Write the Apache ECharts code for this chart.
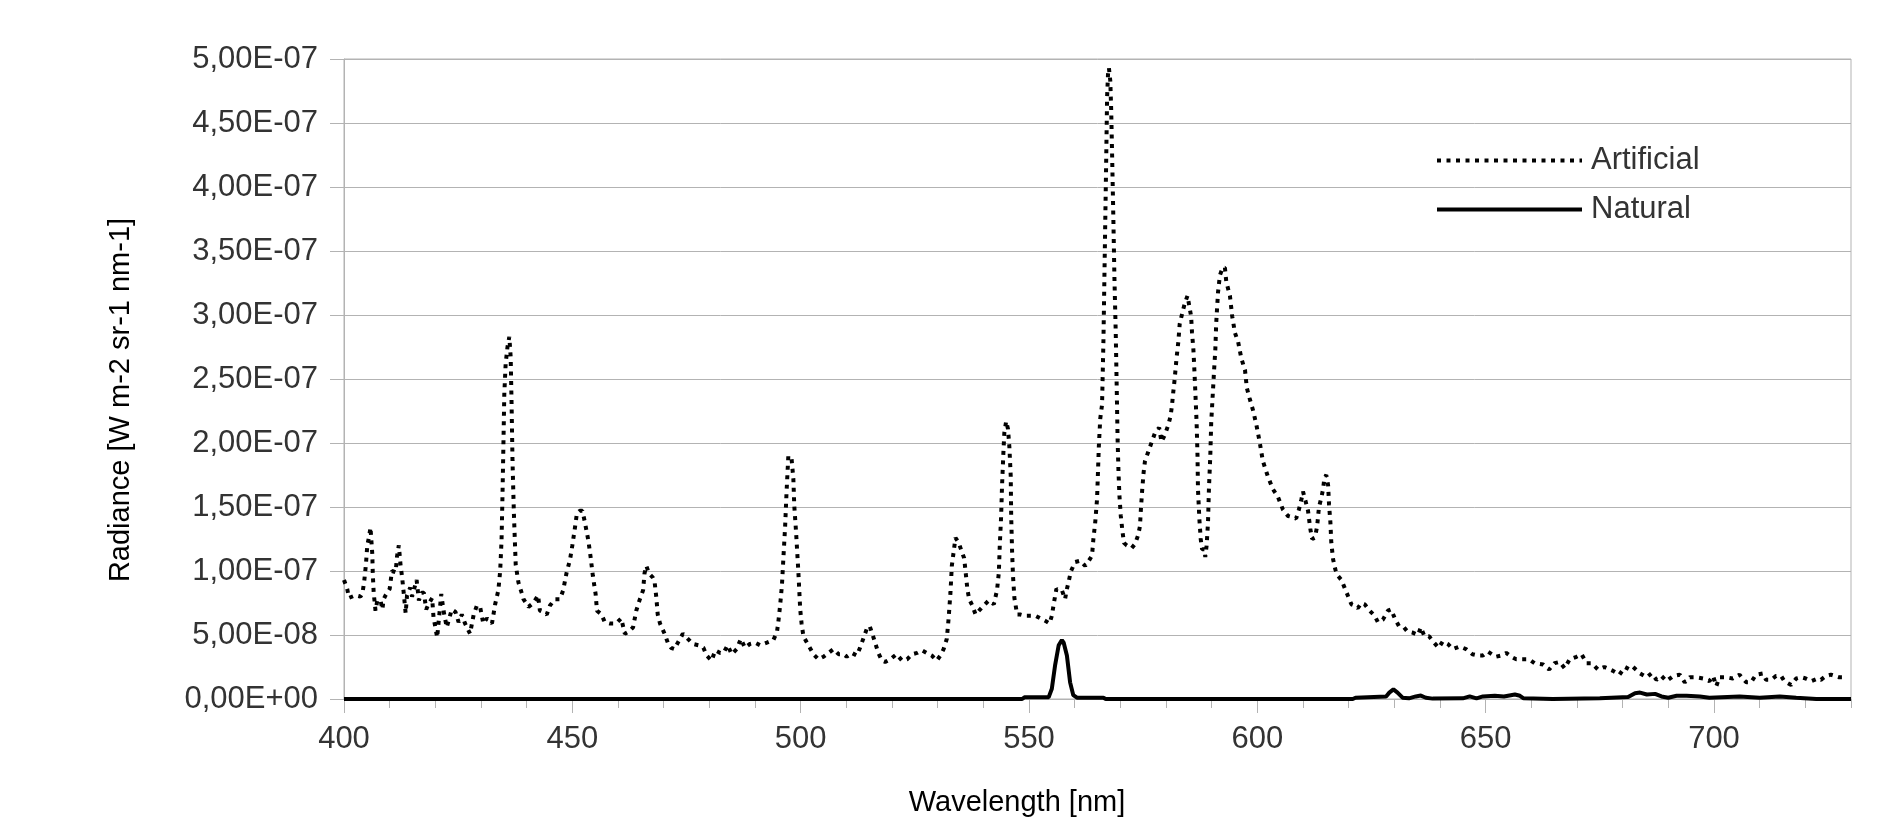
<!DOCTYPE html>
<html>
<head>
<meta charset="utf-8">
<script src="https://cdn.jsdelivr.net/npm/echarts@6/dist/echarts.min.js"></script>
<style>
html,body{margin:0;padding:0;background:#fff;}
#chart{width:1890px;height:829px;}
</style>
</head>
<body>
<div id="chart"></div>
<script>
// ---- Data (radiance in units of 1e-8 W m-2 sr-1 nm-1) ----
const UNIT = 1e-8;
const seriesNames = ['Artificial', 'Natural'];
const xTitle = 'Wavelength [nm]';
const yTitle = 'Radiance [W m-2 sr-1 nm-1]';

const artificialNm = [
400.0,400.7,401.1,402.5,403.6,404.0,404.4,404.8,405.1,405.5,405.8,406.2,406.3,406.5,406.9,407.3,408.0,408.4,408.7,409.1,
410.0,410.5,411.3,411.6,412.0,412.4,412.7,413.1,413.5,413.8,414.5,414.9,415.9,416.4,417.0,417.5,418.0,418.5,419.3,419.6,
420.4,421.3,421.8,422.5,423.6,424.4,425.1,425.8,426.5,427.6,428.4,429.1,429.8,430.5,431.3,432.4,433.1,433.8,434.2,434.5,
434.7,434.9,435.1,435.4,435.8,436.2,436.5,436.7,436.9,437.2,437.6,438.2,438.9,439.3,440.4,441.1,441.8,442.5,442.9,443.6,
444.4,445.1,446.2,447.3,448.0,448.7,449.5,450.0,450.5,451.0,451.6,452.2,452.7,453.5,454.0,454.5,455.1,455.4,456.4,457.1,
458.2,459.6,460.7,461.5,462.5,463.3,464.0,464.7,465.5,465.8,466.2,466.8,467.6,468.0,468.4,468.7,469.2,470.2,470.9,471.6,
472.4,473.1,474.2,475.3,476.4,477.6,478.7,479.4,480.5,481.3,482.4,483.1,484.0,484.9,486.0,486.9,487.8,488.9,490.0,491.1,
492.6,494.0,494.8,495.1,495.5,495.9,496.2,496.6,496.9,497.3,497.7,498.0,498.4,498.6,499.0,499.5,499.9,500.2,500.6,501.7,
502.8,503.9,505.0,506.1,507.2,508.3,509.4,510.1,511.2,512.3,513.0,513.8,514.5,515.1,515.6,516.3,517.0,517.8,518.5,519.6,
521.0,522.2,523.3,524.4,525.5,526.6,527.6,528.7,529.8,530.6,531.3,532.0,532.4,532.8,533.1,533.5,533.9,534.6,535.3,535.8,
536.1,536.5,536.9,537.6,538.3,539.8,541.2,542.3,543.0,543.4,543.6,543.9,544.1,544.4,544.6,545.0,545.4,545.7,546.0,546.1,
546.3,546.5,546.8,547.4,548.1,549.2,550.3,551.4,552.5,553.6,554.5,555.0,555.5,556.0,556.5,557.2,557.9,558.3,558.7,559.2,
560.1,561.2,562.3,563.1,563.8,564.1,564.5,564.9,565.1,565.3,565.6,566.0,566.3,566.6,566.9,567.1,567.3,567.5,567.8,568.0,
568.2,568.5,568.7,569.0,569.2,569.4,569.6,569.8,570.1,570.5,570.8,571.4,572.5,573.2,573.9,574.3,574.5,574.8,575.1,575.4,
576.1,576.9,577.6,578.5,579.0,579.7,580.5,581.0,581.3,581.6,581.9,582.3,582.7,583.0,583.6,584.1,584.7,585.0,585.5,585.7,
586.0,586.2,586.4,586.7,586.9,587.0,587.3,587.6,587.9,588.4,588.6,588.9,589.2,589.4,589.7,589.9,590.3,590.5,590.8,591.0,
591.4,591.8,592.4,592.9,593.2,594.0,594.5,595.1,595.8,596.5,597.3,597.7,598.3,599.1,599.8,600.5,601.2,602.3,603.4,604.5,
605.6,606.7,607.8,608.5,609.1,609.6,610.0,610.6,611.1,611.6,612.0,612.6,613.1,613.5,614.0,614.4,614.7,615.1,615.5,615.7,
616.0,616.2,616.6,617.1,617.7,618.4,619.1,619.9,620.6,621.3,622.0,622.8,623.5,624.6,625.7,626.4,627.5,628.6,629.3,630.1,
631.0,632.1,632.8,633.9,635.2,635.8,636.6,637.6,638.7,639.7,640.6,641.7,642.8,644.3,645.7,647.1,648.3,649.4,650.5,652.2,
653.4,654.5,655.6,656.7,657.8,659.5,660.7,662.6,663.9,665.1,666.2,667.3,668.4,669.9,671.0,672.1,673.2,674.6,676.0,677.9,
679.3,680.5,681.6,682.3,683.8,685.3,686.3,687.4,688.5,689.6,691.1,692.5,693.6,694.7,696.1,697.6,699.0,699.8,700.5,701.2,
702.7,704.1,705.6,706.3,707.1,708.1,709.2,710.7,711.4,712.5,713.6,714.7,715.4,716.9,718.0,719.1,720.1,721.3,722.7,723.4,
724.5,725.6,727.4,729.0
];
const artificialE8 = [
9.3,8.6,7.9,8.1,8.0,8.2,9.1,10.5,12.0,12.7,13.4,11.3,9.8,8.3,6.9,7.7,7.7,7.0,7.8,8.1,
8.6,10.0,9.9,11.1,12.0,10.4,9.6,8.2,6.7,8.1,8.7,8.0,9.3,7.7,8.3,8.3,7.0,7.4,7.9,6.4,
4.8,8.2,6.9,5.6,7.0,6.8,6.0,6.6,5.9,5.1,6.6,7.3,7.2,5.9,6.3,5.9,7.4,8.5,10.0,12.4,
15.8,19.7,23.8,26.2,27.5,28.3,26.7,23.0,18.6,14.5,10.5,9.1,8.3,7.8,7.2,7.4,7.7,8.1,6.9,6.8,
6.6,7.3,7.8,7.8,8.5,9.8,10.9,12.0,13.2,14.5,14.7,14.7,13.9,12.4,11.1,9.6,8.2,6.9,6.6,6.0,
5.9,5.9,6.3,5.1,5.3,5.6,6.9,7.7,8.5,9.8,10.4,9.8,9.5,9.2,7.9,6.6,5.9,5.1,4.4,4.0,
3.9,4.4,5.1,4.7,4.3,4.2,4.0,3.4,3.0,3.8,3.6,3.6,4.2,3.5,3.9,4.7,4.0,4.3,4.4,4.2,
4.4,4.6,5.2,6.0,7.3,8.9,10.9,13.5,16.1,19.0,19.1,18.8,17.2,15.1,13.0,9.9,7.0,5.9,4.9,4.2,
3.5,3.1,3.3,3.6,3.9,3.5,3.5,3.3,3.6,3.4,4.0,4.8,5.5,5.7,5.2,4.4,3.6,3.0,2.9,3.1,
3.5,3.0,3.1,3.5,3.6,3.8,3.6,3.4,3.0,3.4,3.9,4.7,6.3,8.3,10.4,11.5,12.6,12.2,11.5,11.0,
10.0,8.6,7.8,7.3,6.6,7.2,7.7,7.4,8.5,9.9,12.0,14.3,16.7,19.3,20.8,21.7,21.1,19.7,17.4,14.3,
11.5,9.6,7.9,6.6,6.6,6.5,6.5,6.5,6.3,6.1,5.9,6.5,7.6,8.6,8.5,8.5,7.8,8.6,9.2,10.0,
10.7,10.8,10.4,10.8,11.2,12.5,13.8,15.6,17.7,19.8,21.9,23.0,28.0,35.0,42.0,47.0,48.8,49.3,48.3,46.0,
42.5,37.0,33.0,28.5,24.5,20.3,17.7,15.9,14.3,13.0,12.2,12.0,11.8,12.1,12.8,13.5,14.8,16.4,17.7,18.6,
19.3,20.1,20.8,21.2,20.1,20.6,21.4,22.1,22.9,24.0,25.0,26.6,27.9,29.3,30.2,30.9,31.5,31.6,29.9,28.6,
27.3,25.8,24.2,21.6,19.0,16.4,14.1,12.5,11.7,11.7,11.1,12.0,13.8,16.4,19.0,21.6,24.2,25.5,27.3,29.4,
31.8,33.1,33.7,33.7,32.6,31.5,29.9,28.6,27.9,26.6,25.7,24.3,23.5,22.5,21.4,20.1,18.6,17.4,16.4,15.8,
14.8,14.3,14.2,14.1,14.8,15.5,16.2,15.4,14.7,13.3,12.5,12.6,13.5,15.0,15.7,16.4,17.3,17.5,16.7,15.2,
13.8,12.2,10.9,10.1,9.6,9.3,8.7,8.0,7.4,7.3,7.1,7.5,7.4,6.9,6.5,6.0,6.2,6.9,7.0,6.3,
5.7,5.6,5.3,5.2,5.0,5.6,4.9,4.9,4.4,4.0,4.5,4.3,3.9,4.1,3.9,3.5,3.4,3.4,3.7,3.3,
3.4,3.6,3.3,3.1,3.1,3.1,2.8,2.7,2.3,2.8,2.9,2.4,3.1,3.3,3.5,2.8,2.8,2.3,2.5,2.2,
1.9,2.5,2.3,2.5,2.0,1.7,2.0,1.5,1.8,1.4,1.8,1.9,1.3,1.7,1.7,1.6,1.4,1.8,1.0,1.7,
1.7,1.6,1.9,1.6,1.3,1.3,1.9,2.0,1.5,1.5,1.8,1.8,1.4,1.1,1.6,1.7,1.6,1.4,1.6,1.5,
1.8,1.9,1.7,1.7
];

const naturalNm = [
400.0,548.5,549.0,554.3,555.0,555.7,556.5,557.2,557.6,558.3,559.0,559.7,560.5,566.3,566.8,620.9,621.5,628.2,628.9,629.8,
630.7,631.8,633.2,634.7,635.8,636.9,638.4,645.0,646.5,648.0,649.4,652.0,654.0,656.4,657.5,658.3,664.7,675.0,681.2,682.7,
683.8,685.3,687.1,688.5,690.0,691.8,694.0,696.9,699.0,705.6,710.0,714.4,718.0,722.4,730.0
];
const naturalE8 = [
0,0,0.13,0.13,0.8,2.6,4.2,4.6,4.4,3.4,1.3,0.3,0.1,0.1,0,0,0.1,0.2,0.5,0.75,
0.5,0.1,0.05,0.2,0.27,0.1,0.03,0.05,0.2,0.05,0.2,0.25,0.2,0.35,0.25,0.05,0,0.05,0.15,0.45,
0.5,0.35,0.4,0.2,0.1,0.25,0.25,0.2,0.1,0.2,0.1,0.2,0.1,0,0
];

const xMin = 400, xMax = 730, xMajor = 50, xMinor = 10;
const yMinE8 = 0, yMaxE8 = 50, yStepE8 = 5;

// ---- Build ----
const FONT = '"Liberation Sans", Arial, sans-serif';
const GRAY = '#b3b3b3';
const DOT_STYLE = { color: '#000000', width: 4, type: [4, 5.5], cap: 'butt' };
const SOLID_STYLE = { color: '#000000', width: 4, type: 'solid' };

function pairs(xs, ys) { return xs.map((x, i) => [x, ys[i]]); }

function fmtY(vE8) {
  const v = vE8 * UNIT;
  if (Math.abs(v) < 1e-20) return '0,00E+00';
  const s = v.toExponential(2);
  const parts = s.split('e');
  const mant = parts[0].replace('.', ',');
  let e = parseInt(parts[1], 10);
  const sign = e < 0 ? '-' : '+';
  e = Math.abs(e);
  return mant + 'E' + sign + (e < 10 ? '0' + e : '' + e);
}

const chart = echarts.init(document.getElementById('chart'), null, { renderer: 'canvas' });

chart.setOption({
  backgroundColor: '#ffffff',
  animation: false,
  textStyle: { fontFamily: FONT },
  grid: {
    left: 344, right: 39, top: 59, bottom: 130,
    show: true, borderColor: GRAY, borderWidth: 1, backgroundColor: 'transparent'
  },
  legend: {
    orient: 'vertical',
    left: 1435, top: 145,
    padding: 0,
    itemWidth: 145, itemHeight: 14, itemGap: 18,
    data: [
      { name: seriesNames[0], lineStyle: { width: 4, type: [4, 5.5], color: '#000000', cap: 'butt' } },
      { name: seriesNames[1], lineStyle: { width: 4, type: 'solid', color: '#000000' } }
    ],
    itemStyle: { color: 'rgba(0,0,0,0)', borderColor: 'rgba(0,0,0,0)', borderWidth: 0, opacity: 0 },
    textStyle: { fontFamily: FONT, fontSize: 31, color: '#333333', padding: [0, 0, 0, 4] }
  },
  xAxis: [{
    type: 'value', min: xMin, max: xMax, interval: xMajor,
    position: 'bottom',
    axisLine: { show: true, lineStyle: { color: GRAY, width: 1 } },
    axisTick: { show: true, length: 14, lineStyle: { color: GRAY } },
    axisLabel: { show: true, showMaxLabel: false, margin: 25, fontSize: 31, color: '#333333', fontFamily: FONT },
    splitLine: { show: false }
  }, {
    type: 'value', min: xMin, max: xMax, interval: xMinor,
    position: 'bottom',
    axisLine: { show: false },
    axisTick: { show: true, length: 9, lineStyle: { color: GRAY } },
    axisLabel: { show: false },
    splitLine: { show: false }
  }],
  yAxis: {
    type: 'value', min: yMinE8, max: yMaxE8, interval: yStepE8,
    axisLine: { show: true, lineStyle: { color: GRAY, width: 1 } },
    axisTick: { show: true, length: 14, lineStyle: { color: GRAY } },
    axisLabel: { margin: 26, fontSize: 31, color: '#333333', fontFamily: FONT, formatter: fmtY },
    splitLine: { show: true, lineStyle: { color: GRAY, width: 1 } }
  },
  series: [{
    name: seriesNames[0],
    type: 'line',
    xAxisIndex: 0,
    data: pairs(artificialNm, artificialE8),
    symbol: 'none',
    smooth: false,
    lineStyle: DOT_STYLE,
    itemStyle: { color: '#000000' },
    z: 3
  }, {
    name: seriesNames[1],
    type: 'line',
    xAxisIndex: 0,
    data: pairs(naturalNm, naturalE8),
    symbol: 'none',
    smooth: false,
    lineStyle: SOLID_STYLE,
    itemStyle: { color: '#000000' },
    z: 4
  }],
  graphic: [{
    type: 'text',
    x: 121, y: 400,
    rotation: Math.PI / 2,
    style: { text: yTitle, font: '29px ' + FONT, fill: '#000000', textAlign: 'center', textVerticalAlign: 'middle' }
  }, {
    type: 'text',
    x: 1017, y: 803,
    style: { text: xTitle, font: '29px ' + FONT, fill: '#000000', textAlign: 'center', textVerticalAlign: 'middle' }
  }]
});
</script>
</body>
</html>
